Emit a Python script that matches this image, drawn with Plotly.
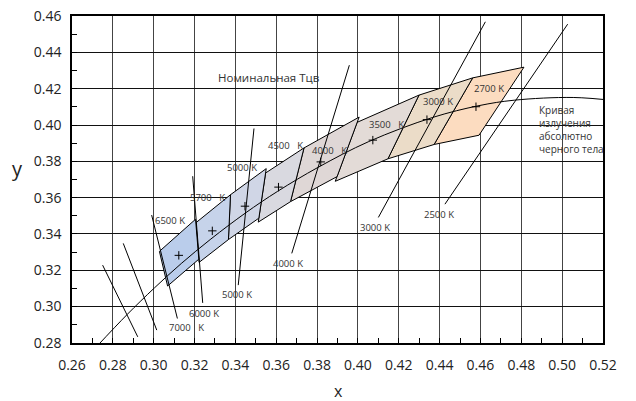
import plotly.graph_objects as go

# ANSI quadrangles (CIE 1931 x, y corners)
quad_names = ["2700 K", "3000 K", "3500 K", "4000 K", "4500 K", "5000 K", "5700 K", "6500 K"]
quad_x = [
    [0.4813, 0.4562, 0.4373, 0.4593],
    [0.4562, 0.4299, 0.4147, 0.4373],
    [0.4299, 0.3996, 0.3889, 0.4147],
    [0.4006, 0.3736, 0.3670, 0.3898],
    [0.3736, 0.3548, 0.3512, 0.3670],
    [0.3551, 0.3376, 0.3366, 0.3515],
    [0.3376, 0.3207, 0.3222, 0.3366],
    [0.3205, 0.3028, 0.3068, 0.3221],
]
quad_y = [
    [0.4319, 0.4260, 0.3893, 0.3944],
    [0.4260, 0.4165, 0.3814, 0.3893],
    [0.4165, 0.4015, 0.3690, 0.3814],
    [0.4044, 0.3874, 0.3578, 0.3716],
    [0.3874, 0.3736, 0.3465, 0.3578],
    [0.3760, 0.3616, 0.3369, 0.3487],
    [0.3616, 0.3462, 0.3243, 0.3369],
    [0.3481, 0.3304, 0.3113, 0.3261],
]
quad_colors = ["#fcdcc0", "#ebdcc8", "#e3dbd7", "#dfd7d6", "#d9d9e0", "#d0d6e6", "#c6d3ea", "#bacdeb"]
center_x = [0.4578, 0.4338, 0.4073, 0.3818, 0.3611, 0.3447, 0.3287, 0.3123]
center_y = [0.4101, 0.4030, 0.3917, 0.3797, 0.3658, 0.3553, 0.3417, 0.3282]

# Planckian locus (black body curve)
planck_T = [12000, 9000, 7500, 6500, 5700, 5000, 4500, 4000, 3500, 3000, 2700, 2500, 2200, 2000]
planck_x = [0.2718, 0.2870, 0.3004, 0.3135, 0.3280, 0.3450, 0.3607, 0.3805, 0.4053, 0.4366, 0.4593, 0.4765, 0.5054, 0.5269]
planck_y = [0.2776, 0.2956, 0.3103, 0.3237, 0.3372, 0.3516, 0.3635, 0.3767, 0.3909, 0.4042, 0.4107, 0.4137, 0.4152, 0.4133]

# Isotherm (CCT) lines: start and end points
iso_x0 = [0.2750, 0.2851, 0.2990, 0.3191, 0.3491, 0.3958, 0.4624, 0.5027]
iso_y0 = [0.3228, 0.3348, 0.3504, 0.3718, 0.3981, 0.4330, 0.4569, 0.4556]
iso_x1 = [0.2922, 0.3015, 0.3116, 0.3240, 0.3414, 0.3676, 0.4100, 0.4426]
iso_y1 = [0.2833, 0.2870, 0.2934, 0.3020, 0.3118, 0.3293, 0.3491, 0.3564]

# Labels near quadrangles (top) and isotherm ends (bottom)
top_labels = ["6500 K", "5700&nbsp;&nbsp;&nbsp;K", "5000 K", "4500&nbsp;&nbsp;&nbsp;K", "4000&nbsp;&nbsp;&nbsp;K",
              "3500&nbsp;&nbsp;&nbsp;K", "3000 K", "2700 K"]
top_x = [0.3080, 0.3261, 0.3432, 0.3643, 0.3861, 0.4141, 0.4392, 0.4644]
top_y = [0.3476, 0.3603, 0.3768, 0.3889, 0.3862, 0.4005, 0.4132, 0.4203]
bot_labels = ["7000&nbsp;&nbsp;&nbsp;K", "6000 K", "5000 K", "4000 K", "3000 K", "2500 K"]
bot_x = [0.3162, 0.3246, 0.3410, 0.3657, 0.4083, 0.4396]
bot_y = [0.2887, 0.2964, 0.3068, 0.3239, 0.3437, 0.3509]

x_ticks = [0.26, 0.28, 0.30, 0.32, 0.34, 0.36, 0.38, 0.40, 0.42, 0.44, 0.46, 0.48, 0.50, 0.52]
y_ticks = [0.28, 0.30, 0.32, 0.34, 0.36, 0.38, 0.40, 0.42, 0.44, 0.46]

FONT = "Open Sans"
fig = go.Figure()

for name, qx, qy, col in zip(quad_names, quad_x, quad_y, quad_colors):
    fig.add_trace(go.Scatter(x=qx + [qx[0]], y=qy + [qy[0]], mode="lines", fill="toself",
                             fillcolor=col, line=dict(color="black", width=1), name=name,
                             showlegend=False, hoverinfo="skip"))

fig.add_trace(go.Scatter(x=planck_x, y=planck_y, mode="lines", line=dict(color="black", width=1, shape="spline"),
                         showlegend=False, hoverinfo="skip"))

iso_lx, iso_ly = [], []
for a, b, c, d in zip(iso_x0, iso_y0, iso_x1, iso_y1):
    iso_lx += [a, c, None]
    iso_ly += [b, d, None]
fig.add_trace(go.Scatter(x=iso_lx, y=iso_ly, mode="lines", line=dict(color="black", width=1),
                         showlegend=False, hoverinfo="skip"))

fig.add_trace(go.Scatter(x=center_x, y=center_y, mode="markers",
                         marker=dict(symbol="cross-thin", size=6, line=dict(color="black", width=1)),
                         showlegend=False, hoverinfo="skip"))

ann = []
for t, x, y in zip(top_labels + bot_labels, top_x + bot_x, top_y + bot_y):
    ann.append(dict(x=x, y=y, text=t, showarrow=False, xanchor="center", yanchor="middle",
                    font=dict(family=FONT, size=9.5, color="#333")))
ann.append(dict(x=0.3565, y=0.4264, text="Номинальная Тцв", showarrow=False, xanchor="center",
                yanchor="middle", font=dict(family=FONT, size=11.5, color="#333")))
ann.append(dict(x=0.4875, y=0.3977, text="Кривая<br>излучения<br>абсолютно<br>черного тела", showarrow=False,
                xanchor="left", yanchor="middle", align="left", font=dict(family=FONT, size=10, color="#333")))
ann.append(dict(xref="paper", yref="paper", x=0.501, y=-0.147, text="x", showarrow=False,
                xanchor="center", yanchor="middle", font=dict(family=FONT, size=16, color="#222")))
ann.append(dict(xref="paper", yref="paper", x=-0.102, y=0.535, text="y", showarrow=False,
                xanchor="center", yanchor="middle", font=dict(family=FONT, size=20, color="#222")))

fig.update_layout(
    width=636, height=401,
    margin=dict(l=72, r=33, t=16, b=58, autoexpand=False),
    paper_bgcolor="white", plot_bgcolor="white",
    annotations=ann,
    showlegend=False,
)
fig.update_xaxes(range=[0.26, 0.52], tickvals=x_ticks, ticktext=[f"{v:.2f}" for v in x_ticks],
                 automargin=False,
                 showgrid=True, gridcolor="#444", gridwidth=1, zeroline=False,
                 showline=True, linecolor="black", linewidth=1.5, mirror=True,
                 ticks="inside", ticklen=5, tickcolor="black", ticklabelstandoff=8,
                 minor=dict(dtick=0.01, tick0=0.25, ticks="inside", ticklen=5, tickcolor="black", showgrid=False),
                 tickfont=dict(family=FONT, size=14, color="#222"))
fig.update_yaxes(range=[0.2799, 0.4601], tickvals=y_ticks, ticktext=[f"{v:.2f}" for v in y_ticks],
                 automargin=False,
                 showgrid=True, gridcolor="#111", gridwidth=1, zeroline=False,
                 showline=True, linecolor="black", linewidth=1.5, mirror=True,
                 ticks="inside", ticklen=5, tickcolor="black", ticklabelstandoff=6,
                 minor=dict(dtick=0.01, tick0=0.27, ticks="inside", ticklen=5, tickcolor="black", showgrid=False),
                 tickfont=dict(family=FONT, size=14, color="#222"))

# remove the default 8px page margin so the figure sits at the window's top-left corner
fig.write_html("out.html", config={"displayModeBar": False},
               post_script="document.body.style.margin='0';document.body.style.overflow='hidden';")
